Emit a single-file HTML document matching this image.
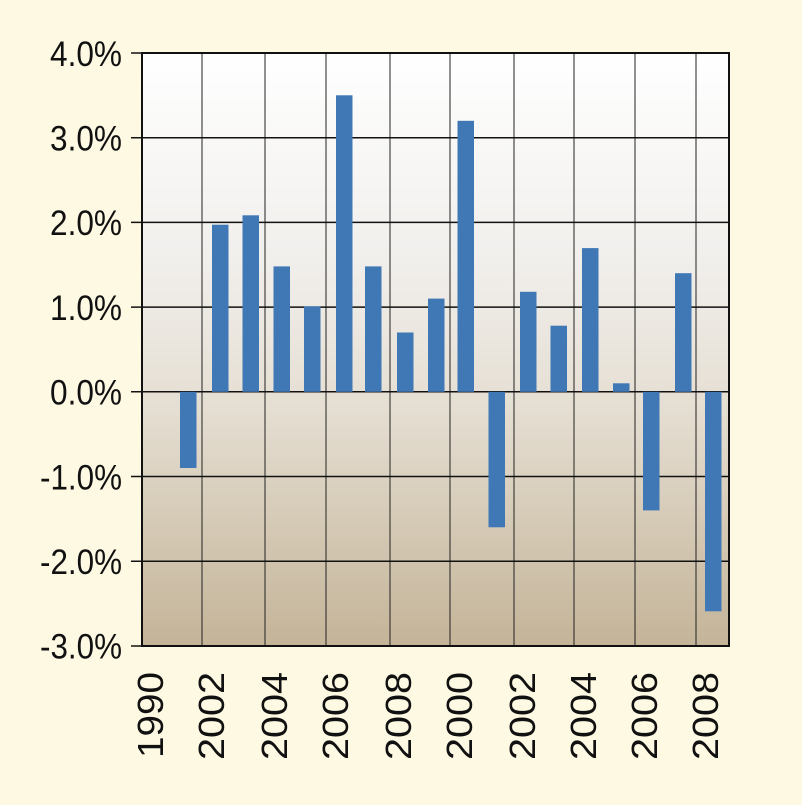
<!DOCTYPE html>
<html><head><style>
html,body{margin:0;padding:0;background:#fef9e3;}
</style></head><body>
<svg width="802" height="800" xmlns="http://www.w3.org/2000/svg" font-family="Liberation Sans, sans-serif">
<defs>
<linearGradient id="g" x1="0" y1="0" x2="0" y2="1">
<stop offset="0" stop-color="#ffffff"/>
<stop offset="0.35" stop-color="#f1efec"/>
<stop offset="0.6" stop-color="#e5ded2"/>
<stop offset="1" stop-color="#c4b498"/>
</linearGradient>
</defs>
<rect x="0" y="0" width="802" height="800" fill="#fef9e3"/>
<rect x="142" y="53" width="587" height="593" fill="url(#g)"/>
<g stroke="#222" stroke-width="1">
<line x1="202" y1="53" x2="202" y2="646"/>
<line x1="265" y1="53" x2="265" y2="646"/>
<line x1="326" y1="53" x2="326" y2="646"/>
<line x1="390" y1="53" x2="390" y2="646"/>
<line x1="450" y1="53" x2="450" y2="646"/>
<line x1="514" y1="53" x2="514" y2="646"/>
<line x1="574" y1="53" x2="574" y2="646"/>
<line x1="635" y1="53" x2="635" y2="646"/>
<line x1="696" y1="53" x2="696" y2="646"/>
</g>
<g stroke="#111" stroke-width="1.5">
<line x1="131" y1="137.7" x2="729" y2="137.7"/>
<line x1="131" y1="222.4" x2="729" y2="222.4"/>
<line x1="131" y1="307.1" x2="729" y2="307.1"/>
<line x1="131" y1="391.8" x2="729" y2="391.8"/>
<line x1="131" y1="476.5" x2="729" y2="476.5"/>
<line x1="131" y1="561.2" x2="729" y2="561.2"/>
<line x1="131" y1="53" x2="142" y2="53"/>
<line x1="131" y1="646" x2="142" y2="646"/>
</g>
<g fill="#3f78b5">
<rect x="180" y="391.8" width="16.5" height="76.2"/>
<rect x="212" y="224.7" width="16.5" height="167.1"/>
<rect x="242.5" y="215.3" width="16.5" height="176.5"/>
<rect x="273.5" y="266.4" width="16.5" height="125.4"/>
<rect x="304" y="306.3" width="16.5" height="85.5"/>
<rect x="336" y="95.3" width="16.5" height="296.5"/>
<rect x="365" y="266.4" width="16.5" height="125.4"/>
<rect x="397" y="332.5" width="16.5" height="59.3"/>
<rect x="428" y="298.6" width="16.5" height="93.2"/>
<rect x="457.5" y="120.8" width="16.5" height="271"/>
<rect x="488.5" y="391.8" width="16.5" height="135.5"/>
<rect x="520" y="291.8" width="16.5" height="100"/>
<rect x="550.5" y="325.7" width="16.5" height="66.1"/>
<rect x="582" y="248.1" width="16.5" height="143.7"/>
<rect x="613" y="383.3" width="16.5" height="8.5"/>
<rect x="643" y="391.8" width="16.5" height="118.6"/>
<rect x="675" y="273.2" width="16.5" height="118.6"/>
<rect x="705" y="391.8" width="16.5" height="219.5"/>
</g>
<rect x="142" y="53" width="587" height="593" fill="none" stroke="#111" stroke-width="2"/>
<g font-size="35" text-anchor="end" fill="#111" lengthAdjust="spacingAndGlyphs">
<text x="122" y="66" textLength="72" lengthAdjust="spacingAndGlyphs">4.0%</text>
<text x="122" y="150.5" textLength="72" lengthAdjust="spacingAndGlyphs">3.0%</text>
<text x="122" y="235" textLength="72" lengthAdjust="spacingAndGlyphs">2.0%</text>
<text x="122" y="320" textLength="72" lengthAdjust="spacingAndGlyphs">1.0%</text>
<text x="122" y="404.5" textLength="72" lengthAdjust="spacingAndGlyphs">0.0%</text>
<text x="122" y="489.5" textLength="82" lengthAdjust="spacingAndGlyphs">-1.0%</text>
<text x="122" y="574" textLength="82" lengthAdjust="spacingAndGlyphs">-2.0%</text>
<text x="122" y="658.5" textLength="82" lengthAdjust="spacingAndGlyphs">-3.0%</text>
</g>
<g font-size="36" text-anchor="end" fill="#111">
<text transform="translate(163,672) rotate(-90)" textLength="86" lengthAdjust="spacingAndGlyphs">1990</text>
<text transform="translate(224,672) rotate(-90)" textLength="88" lengthAdjust="spacingAndGlyphs">2002</text>
<text transform="translate(287,672) rotate(-90)" textLength="88" lengthAdjust="spacingAndGlyphs">2004</text>
<text transform="translate(348,672) rotate(-90)" textLength="88" lengthAdjust="spacingAndGlyphs">2006</text>
<text transform="translate(411,672) rotate(-90)" textLength="88" lengthAdjust="spacingAndGlyphs">2008</text>
<text transform="translate(472,672) rotate(-90)" textLength="88" lengthAdjust="spacingAndGlyphs">2000</text>
<text transform="translate(535,672) rotate(-90)" textLength="88" lengthAdjust="spacingAndGlyphs">2002</text>
<text transform="translate(596,672) rotate(-90)" textLength="88" lengthAdjust="spacingAndGlyphs">2004</text>
<text transform="translate(657,672) rotate(-90)" textLength="88" lengthAdjust="spacingAndGlyphs">2006</text>
<text transform="translate(718,672) rotate(-90)" textLength="88" lengthAdjust="spacingAndGlyphs">2008</text>
</g>
</svg>
</body></html>
